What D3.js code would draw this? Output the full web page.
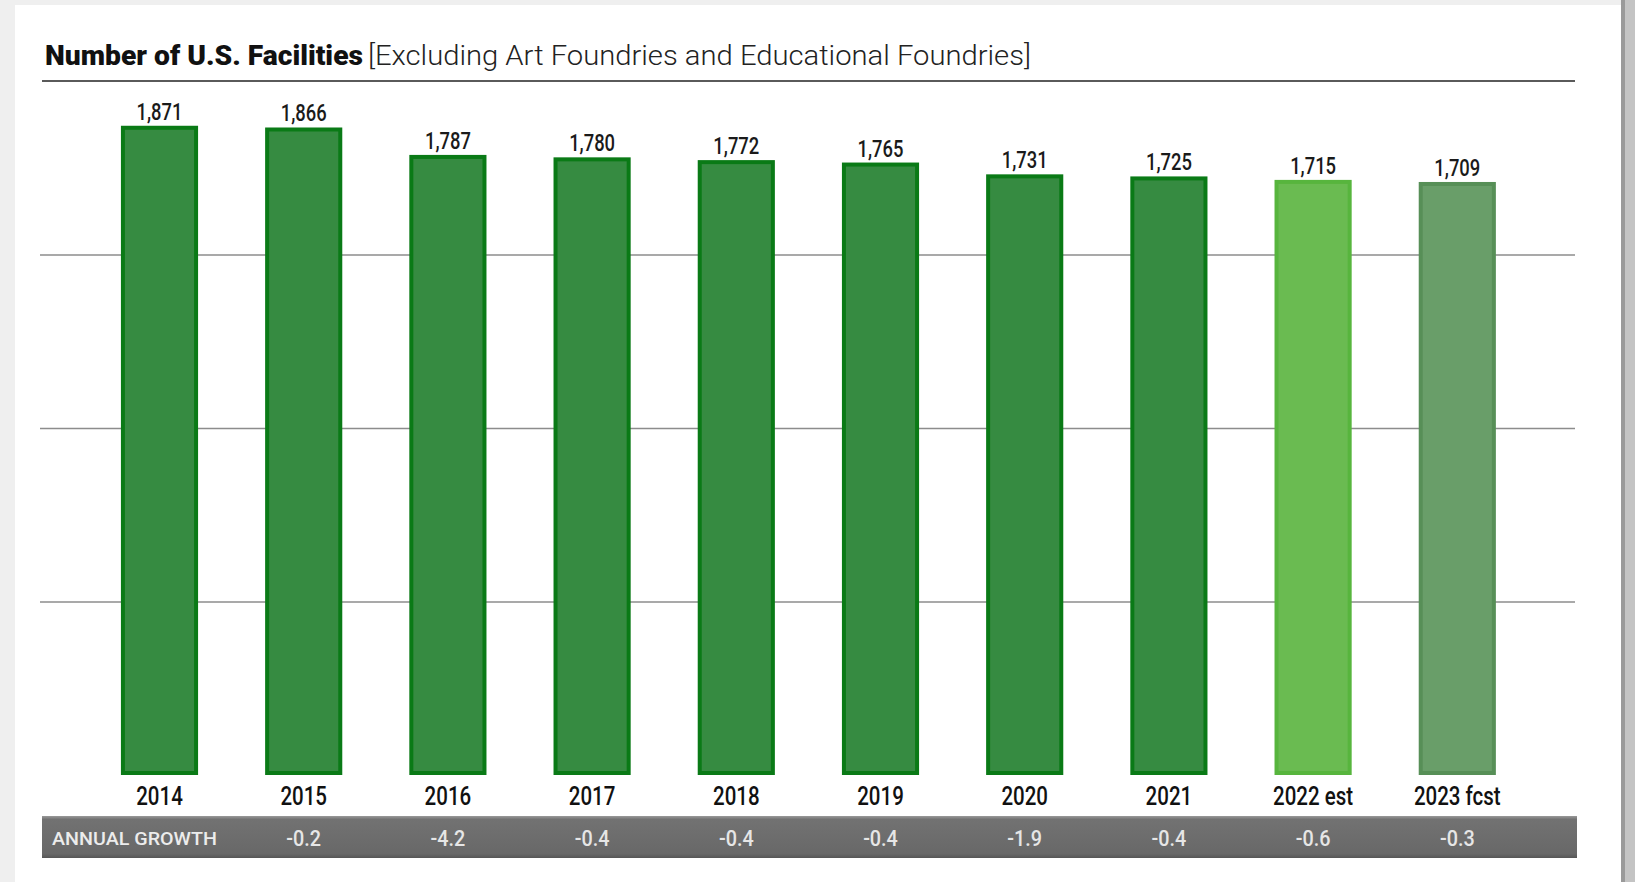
<!DOCTYPE html>
<html>
<head>
<meta charset="utf-8">
<script src="https://cdn.jsdelivr.net/npm/d3@7"></script>
<style>
  html, body { margin: 0; padding: 0; background: #ffffff; }
  svg { display: block; }
</style>
</head>
<body>
<svg id="chart" width="1635" height="882"></svg>
<script>
// ---- data ----
const categories = ["2014", "2015", "2016", "2017", "2018", "2019", "2020", "2021", "2022 est", "2023 fcst"];
const facilities = [1871, 1866, 1787, 1780, 1772, 1765, 1731, 1725, 1715, 1709];
const valueLabels = ["1,871", "1,866", "1,787", "1,780", "1,772", "1,765", "1,731", "1,725", "1,715", "1,709"];
const annualGrowth = [null, -0.2, -4.2, -0.4, -0.4, -0.4, -1.9, -0.4, -0.6, -0.3];
const growthLabels = ["", "-0.2", "-4.2", "-0.4", "-0.4", "-0.4", "-1.9", "-0.4", "-0.6", "-0.3"];
const gridTicks = [500, 1000, 1500];
const titleBold = "Number of U.S. Facilities";
const titleRest = "[Excluding Art Foundries and Educational Foundries]";
const growthTitle = "ANNUAL GROWTH";
const barKind = ["actual", "actual", "actual", "actual", "actual", "actual", "actual", "actual", "estimate", "forecast"];

// ---- styles ----
const fills = { actual: "#368b41", estimate: "#6abb51", forecast: "#699e69" };
const edges = { actual: "#0a7a16", estimate: "#57b53d", forecast: "#578f57" };

const svg = d3.select("#chart");
const W = 1635, H = 882;

// page frame
svg.append("rect").attr("x", 0).attr("y", 0).attr("width", W).attr("height", H).attr("fill", "#ffffff");
svg.append("rect").attr("x", 0).attr("y", 0).attr("width", 15).attr("height", H).attr("fill", "#efefef");
svg.append("rect").attr("x", 0).attr("y", 0).attr("width", W).attr("height", 5).attr("fill", "#efefef");
svg.append("rect").attr("x", 1621).attr("y", 0).attr("width", 14).attr("height", H).attr("fill", "#c4c4c4");
svg.append("rect").attr("x", 1621).attr("y", 0).attr("width", 4).attr("height", H).attr("fill", "#9a9a9a");

// scales
const x = d3.scaleBand().domain(categories).range([87.4, 1529.4]).paddingInner(0.465).paddingOuter(0.2325);
const y = d3.scaleLinear().domain([0, 2000]).range([775, 81]);

// gridlines
const grid = svg.append("g").attr("transform", "translate(40,0)")
  .call(d3.axisLeft(y).tickValues(gridTicks).tickSize(-1535).tickFormat(""));
grid.select(".domain").remove();
grid.selectAll(".tick line").attr("stroke", "#8c8c8c").attr("stroke-width", 1.6);

// title
svg.append("text").attr("x", 45).attr("y", 65)
  .attr("font-family", "Roboto, 'Open Sans', sans-serif").attr("font-weight", 900).attr("font-size", 28)
  .attr("fill", "#111").attr("textLength", 318).attr("lengthAdjust", "spacingAndGlyphs").text(titleBold);
svg.append("text").attr("x", 368).attr("y", 65)
  .attr("font-family", "Roboto, 'Open Sans', sans-serif").attr("font-weight", 300).attr("font-size", 28)
  .attr("fill", "#222").attr("textLength", 663).attr("lengthAdjust", "spacingAndGlyphs").text(titleRest);
svg.append("line").attr("x1", 42).attr("x2", 1575).attr("y1", 81).attr("y2", 81)
  .attr("stroke", "#5a5a5a").attr("stroke-width", 2);

// bars
const sw = 4;
svg.append("g").selectAll("rect").data(categories).join("rect")
  .attr("x", d => x(d) + sw / 2)
  .attr("width", x.bandwidth() - sw)
  .attr("y", (d, i) => y(facilities[i]) + sw / 2)
  .attr("height", (d, i) => y(0) - y(facilities[i]) - sw)
  .attr("fill", (d, i) => fills[barKind[i]])
  .attr("stroke", (d, i) => edges[barKind[i]])
  .attr("stroke-width", sw);

// value labels
svg.append("g").selectAll("text").data(categories).join("text")
  .attr("transform", (d, i) => `translate(${x(d) + x.bandwidth() / 2},${y(facilities[i]) - 6}) scale(0.8,1)`)
  .attr("text-anchor", "middle")
  .attr("font-family", "Roboto, sans-serif").attr("font-weight", 500).attr("font-size", 23)
  .attr("fill", "#1a1a1a")
  .text((d, i) => valueLabels[i]);

// category labels
svg.append("g").selectAll("text").data(categories).join("text")
  .attr("transform", d => `translate(${x(d) + x.bandwidth() / 2},805) scale(0.82,1)`)
  .attr("text-anchor", "middle")
  .attr("font-family", "Roboto, sans-serif").attr("font-weight", 500).attr("font-size", 25)
  .attr("fill", "#111")
  .text(d => d);

// growth band
const defs = svg.append("defs");
const g = defs.append("linearGradient").attr("id", "bandGrad").attr("x1", 0).attr("x2", 0).attr("y1", 0).attr("y2", 1);
g.append("stop").attr("offset", "0%").attr("stop-color", "#9a9a9a");
g.append("stop").attr("offset", "8%").attr("stop-color", "#727272");
g.append("stop").attr("offset", "90%").attr("stop-color", "#686868");
g.append("stop").attr("offset", "100%").attr("stop-color", "#565656");
svg.append("rect").attr("x", 42).attr("y", 816).attr("width", 1535).attr("height", 42)
  .attr("fill", "url(#bandGrad)");

svg.append("text").attr("x", 52).attr("y", 845)
  .attr("font-family", "Roboto, sans-serif").attr("font-weight", 500).attr("font-size", 18)
  .attr("fill", "#ececec").attr("textLength", 165).attr("lengthAdjust", "spacingAndGlyphs")
  .text(growthTitle);

svg.append("g").selectAll("text").data(categories.filter((d, i) => annualGrowth[i] !== null)).join("text")
  .attr("transform", d => `translate(${x(d) + x.bandwidth() / 2},846) scale(0.9,1)`)
  .attr("text-anchor", "middle")
  .attr("font-family", "Roboto, sans-serif").attr("font-weight", 500).attr("font-size", 22)
  .attr("fill", "#e6e6e6")
  .text(d => growthLabels[categories.indexOf(d)]);
</script>
</body>
</html>
